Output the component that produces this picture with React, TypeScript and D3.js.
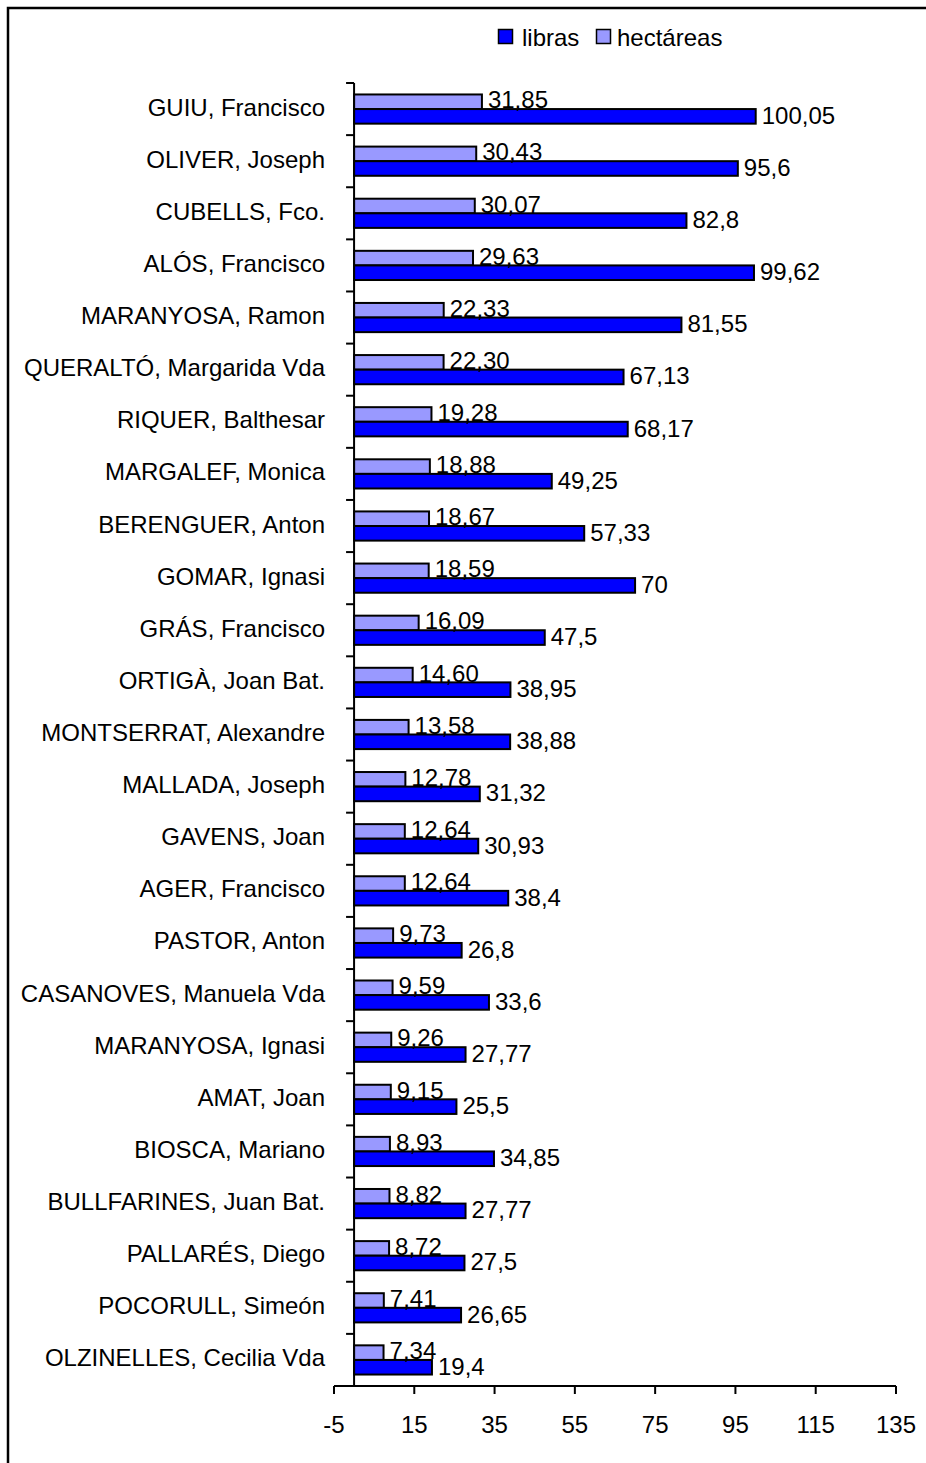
import * as d3 from 'd3'

const names = [
  'GUIU, Francisco', 'OLIVER, Joseph', 'CUBELLS, Fco.', 'ALÓS, Francisco',
  'MARANYOSA, Ramon', 'QUERALTÓ, Margarida Vda', 'RIQUER, Balthesar', 'MARGALEF, Monica',
  'BERENGUER, Anton', 'GOMAR, Ignasi', 'GRÁS, Francisco', 'ORTIGÀ, Joan Bat.',
  'MONTSERRAT, Alexandre', 'MALLADA, Joseph', 'GAVENS, Joan', 'AGER, Francisco',
  'PASTOR, Anton', 'CASANOVES, Manuela Vda', 'MARANYOSA, Ignasi', 'AMAT, Joan',
  'BIOSCA, Mariano', 'BULLFARINES, Juan Bat.', 'PALLARÉS, Diego', 'POCORULL, Simeón',
  'OLZINELLES, Cecilia Vda',
]
const hectareas = [
  31.85, 30.43, 30.07, 29.63, 22.33, 22.3, 19.28, 18.88, 18.67, 18.59, 16.09, 14.6, 13.58,
  12.78, 12.64, 12.64, 9.73, 9.59, 9.26, 9.15, 8.93, 8.82, 8.72, 7.41, 7.34,
]
const libras = [
  100.05, 95.6, 82.8, 99.62, 81.55, 67.13, 68.17, 49.25, 57.33, 70, 47.5, 38.95, 38.88,
  31.32, 30.93, 38.4, 26.8, 33.6, 27.77, 25.5, 34.85, 27.77, 27.5, 26.65, 19.4,
]
const xTicks = [-5, 15, 35, 55, 75, 95, 115, 135]

const DARK = '#0000FF'
const LIGHT = '#9999FF'
const FONT = "'Liberation Sans', Arial, sans-serif"
const FS = 24

export default function App() {
  const W = 926
  const H = 1463
  const x = d3.scaleLinear().domain([-5, 135]).range([334, 896])
  const y = d3.scaleBand().domain(names).range([83, 1386]).paddingInner(0.44).paddingOuter(0.22)
  const x0 = x(0)
  const axisY = 1386
  const bh = y.bandwidth() / 2
  const fmtL = (v: number) => String(v).replace('.', ',')
  const fmtH = (v: number) => v.toFixed(2).replace('.', ',')
  const step = y.step()
  const bandTop = 83

  return (
    <div style={{ position: 'absolute', left: 0, top: 0 }}>
      <svg width={W} height={H} style={{ display: 'block', background: '#fff' }}>
        <rect x={8} y={8} width={W + 20} height={H + 20} fill="#fff" stroke="#000" strokeWidth={2.5} />

        {/* legend */}
        <rect x={498.5} y={29.5} width={14} height={14} fill={DARK} stroke="#000" strokeWidth={1.5} />
        <text x={522} y={46} fontFamily={FONT} fontSize={FS} fill="#000">libras</text>
        <rect x={596.5} y={29.5} width={14} height={14} fill={LIGHT} stroke="#000" strokeWidth={1.5} />
        <text x={617} y={46} fontFamily={FONT} fontSize={FS} fill="#000">hectáreas</text>

        {names.map((n, i) => {
          const yb = y(n) as number
          const cy = bandTop + step * (i + 0.5)
          return (
            <g key={n}>
              <rect x={x0} y={yb} width={x(hectareas[i]) - x0} height={bh} fill={LIGHT} stroke="#000" strokeWidth={2} />
              <rect x={x0} y={yb + bh} width={x(libras[i]) - x0} height={bh} fill={DARK} stroke="#000" strokeWidth={2} />
              <text x={x(hectareas[i]) + 6} y={yb + bh / 2 + 6.5} fontFamily={FONT} fontSize={FS} fill="#000">
                {fmtH(hectareas[i])}
              </text>
              <text x={x(libras[i]) + 6} y={yb + bh * 1.5 + 7.5} fontFamily={FONT} fontSize={FS} fill="#000">
                {fmtL(libras[i])}
              </text>
              <text x={325} y={cy + 6.5} textAnchor="end" fontFamily={FONT} fontSize={FS} fill="#000">
                {n}
              </text>
            </g>
          )
        })}

        {/* y axis */}
        <line x1={x0} x2={x0} y1={bandTop} y2={axisY} stroke="#000" strokeWidth={2} />
        {d3.range(names.length + 1).map(i => (
          <line key={i} x1={x0 - 8} x2={x0} y1={bandTop + step * i} y2={bandTop + step * i} stroke="#000" strokeWidth={2} />
        ))}

        {/* x axis */}
        <line x1={x(-5)} x2={x(135)} y1={axisY} y2={axisY} stroke="#000" strokeWidth={2} />
        {xTicks.map(t => (
          <g key={t}>
            <line x1={x(t)} x2={x(t)} y1={axisY} y2={axisY + 8} stroke="#000" strokeWidth={2} />
            <text x={x(t)} y={1433} textAnchor="middle" fontFamily={FONT} fontSize={FS} fill="#000">
              {t}
            </text>
          </g>
        ))}
      </svg>
    </div>
  )
}
